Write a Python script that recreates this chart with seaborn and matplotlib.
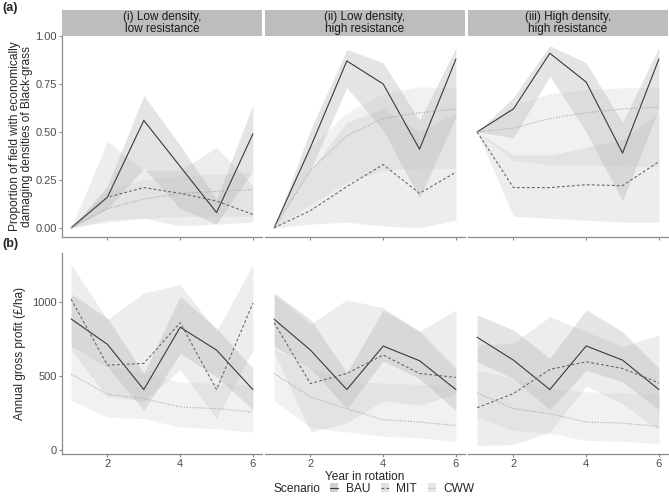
import numpy as np
import pandas as pd
import matplotlib
matplotlib.use("Agg")
import matplotlib.pyplot as plt
import seaborn as sns
from matplotlib.patches import Rectangle, Patch
from matplotlib.lines import Line2D

# ---------------------------- #
# DATA
# ---------------------------- #
years = [1, 2, 3, 4, 5, 6]
scenarios = ["BAU", "MIT", "CWW"]
panel_titles = ["(i) Low density,\nlow resistance",
                "(ii) Low density,\nhigh resistance",
                "(iii) High density,\nhigh resistance"]

# (a) proportion of field with damaging densities, one row per panel
bau_prop = [[0, 0.16, 0.56, 0.32, 0.08, 0.49],
            [0, 0.42, 0.87, 0.75, 0.41, 0.88],
            [0.5, 0.62, 0.91, 0.76, 0.39, 0.88]]
bau_prop_lo = [[0, 0.10, 0.31, 0.10, 0.02, 0.30],
               [0, 0.30, 0.73, 0.51, 0.155, 0.58],
               [0.5, 0.47, 0.79, 0.50, 0.14, 0.62]]
bau_prop_hi = [[0, 0.22, 0.69, 0.43, 0.15, 0.64],
               [0, 0.51, 0.93, 0.86, 0.56, 0.94],
               [0.5, 0.68, 0.95, 0.86, 0.55, 0.94]]
mit_prop = [[0, 0.16, 0.21, 0.18, 0.14, 0.07],
            [0, 0.09, 0.215, 0.33, 0.18, 0.29],
            [0.5, 0.21, 0.21, 0.225, 0.22, 0.345]]
mit_prop_lo = [[0, 0.04, 0.05, 0.01, 0.02, 0.03],
               [0, 0.02, 0.03, 0.01, 0.0, 0.04],
               [0.5, 0.06, 0.05, 0.04, 0.03, 0.03]]
mit_prop_hi = [[0, 0.45, 0.30, 0.30, 0.42, 0.22],
               [0, 0.30, 0.55, 0.62, 0.50, 0.60],
               [0.5, 0.38, 0.38, 0.42, 0.46, 0.60]]
cww_prop = [[0, 0.10, 0.15, 0.18, 0.19, 0.20],
            [0, 0.30, 0.48, 0.57, 0.60, 0.62],
            [0.5, 0.52, 0.57, 0.60, 0.62, 0.63]]
cww_prop_lo = [[0, 0.03, 0.05, 0.06, 0.06, 0.06],
               [0, 0.12, 0.24, 0.30, 0.31, 0.31],
               [0.5, 0.35, 0.33, 0.33, 0.32, 0.32]]
cww_prop_hi = [[0, 0.20, 0.25, 0.27, 0.28, 0.29],
               [0, 0.42, 0.60, 0.70, 0.735, 0.73],
               [0.5, 0.64, 0.70, 0.72, 0.73, 0.73]]

# (b) annual gross profit (GBP/ha)
bau_gp = [[884, 712, 406, 828, 673, 406],
          [882, 673, 406, 700, 601, 406],
          [760, 605, 406, 701, 605, 406]]
bau_gp_lo = [[696, 560, 265, 651, 492, 270],
             [700, 550, 277, 600, 480, 265],
             [594, 481, 270, 537, 458, 270]]
bau_gp_hi = [[1054, 889, 515, 1036, 821, 549],
             [1060, 880, 520, 945, 800, 550],
             [912, 810, 617, 946, 798, 549]]
mit_gp = [[1018, 571, 583, 859, 406, 991],
          [859, 447, 515, 640, 515, 488],
          [283, 379, 542, 594, 549, 451]]
mit_gp_lo = [[673, 356, 330, 540, 209, 673],
             [660, 118, 180, 330, 300, 380],
             [27, 34, 118, 428, 311, 129]]
mit_gp_hi = [[1252, 880, 1059, 1116, 800, 1252],
             [1050, 850, 1014, 960, 800, 945],
             [707, 720, 900, 798, 696, 776]]
cww_gp = [[510, 374, 345, 288, 277, 254],
          [515, 356, 277, 202, 186, 163],
          [383, 277, 243, 186, 179, 156]]
cww_gp_lo = [[333, 220, 209, 152, 141, 118],
             [330, 150, 120, 90, 80, 55],
             [220, 129, 111, 61, 57, 39]]
cww_gp_hi = [[685, 571, 515, 458, 447, 435],
             [680, 560, 460, 450, 440, 440],
             [537, 481, 413, 390, 383, 379]]

# ---------------------------- #
# BUILD LONG TABLE
# ---------------------------- #
rows = []
series = {
    ("BAU", "prop"): (bau_prop, bau_prop_lo, bau_prop_hi),
    ("MIT", "prop"): (mit_prop, mit_prop_lo, mit_prop_hi),
    ("CWW", "prop"): (cww_prop, cww_prop_lo, cww_prop_hi),
    ("BAU", "gp"): (bau_gp, bau_gp_lo, bau_gp_hi),
    ("MIT", "gp"): (mit_gp, mit_gp_lo, mit_gp_hi),
    ("CWW", "gp"): (cww_gp, cww_gp_lo, cww_gp_hi),
}
for (sc, metric), (mid, lo, hi) in series.items():
    for p in range(3):
        for i, yr in enumerate(years):
            rows.append(dict(scenario=sc, metric=metric, panel=p, year=yr,
                             value=mid[p][i], lo=lo[p][i], hi=hi[p][i]))
df = pd.DataFrame(rows)

# ---------------------------- #
# STYLE
# ---------------------------- #
sns.set_theme(style="white")
plt.rcParams['font.family'] = ['Liberation Sans', 'DejaVu Sans']

line_col = {"BAU": "#3a3a3a", "MIT": "#666666", "CWW": "#a8a8a8"}
fill_col = {"BAU": "#7a7a7a", "MIT": "#a8a8a8", "CWW": "#bdbdbd"}
fill_alpha = 0.2
dash_map = {"BAU": "", "MIT": (2.5, 2), "CWW": (1, 1.5)}
axis_grey = "#8a8a8a"
tick_txt = "#4d4d4d"
FS = 8.6

fig = plt.figure(figsize=(6.69, 4.96), dpi=100)
W, H = 669, 496
lefts = [62, 265, 468]
pw = 200
rows_px = [(36, 237), (253, 454)]

axes = [[None] * 3 for _ in range(2)]
for r, (top, bot) in enumerate(rows_px):
    for c, lx in enumerate(lefts):
        ax = fig.add_axes([lx / W, 1 - bot / H, pw / W, (bot - top) / H])
        axes[r][c] = ax

for r, metric in enumerate(["prop", "gp"]):
    for c in range(3):
        ax = axes[r][c]
        sub = df[(df.metric == metric) & (df.panel == c)]
        for sc in scenarios:
            s = sub[sub.scenario == sc]
            ax.fill_between(s.year, s.lo, s.hi, color=fill_col[sc],
                            alpha=fill_alpha, linewidth=0)
        sns.lineplot(data=sub, x="year", y="value", hue="scenario",
                     style="scenario", palette=line_col, dashes=dash_map,
                     hue_order=scenarios, style_order=scenarios,
                     linewidth=0.8, legend=False, ax=ax, errorbar=None)
        ax.set_xlim(0.75, 6.25)
        if metric == "prop":
            ax.set_ylim(-0.0475, 0.9975)
            ax.set_yticks([0, 0.25, 0.5, 0.75, 1.0])
            ax.set_yticklabels(["0.00", "0.25", "0.50", "0.75", "1.00"])
        else:
            ax.set_ylim(-30, 1330)
            ax.set_yticks([0, 500, 1000])
        ax.set_xticks([2, 4, 6])
        ax.set_xlabel("")
        ax.set_ylabel("")
        for sp in ["top", "right"]:
            ax.spines[sp].set_visible(False)
        ax.spines["bottom"].set_color(axis_grey)
        ax.spines["bottom"].set_linewidth(0.9)
        if c == 0:
            ax.spines["left"].set_color(axis_grey)
            ax.spines["left"].set_linewidth(0.9)
        else:
            ax.spines["left"].set_visible(False)
            ax.tick_params(axis="y", left=False, labelleft=False)
        ax.tick_params(axis="both", colors=axis_grey, labelcolor=tick_txt,
                       labelsize=8, length=2.5, width=0.8, pad=1.2,
                       bottom=True, left=(c == 0))
        if r == 0:
            ax.tick_params(axis="x", labelbottom=False)
            # facet strip
            ax.add_patch(Rectangle((0, 1.0), 1, 26 / 201, transform=ax.transAxes,
                                   facecolor="#bdbdbd", edgecolor="none",
                                   clip_on=False))
            ax.text(0.5, 1.0 + 13 / 201, panel_titles[c], transform=ax.transAxes,
                    ha="center", va="center", fontsize=8.5, color="#1a1a1a",
                    linespacing=1.0)

axes[0][0].set_ylabel("Proportion of field with economically\n"
                      "damaging densities of Black-grass",
                      fontsize=FS, labelpad=1.5, linespacing=1.0)
axes[1][0].set_ylabel("Annual gross profit (£/ha)", fontsize=FS, labelpad=4.5)
axes[1][1].set_xlabel("Year in rotation", fontsize=FS, labelpad=1)

fig.text(2 / W, 1 - 8 / H, "(a)", fontsize=9, fontweight="bold", va="center")
fig.text(2 / W, 1 - 244 / H, "(b)", fontsize=9, fontweight="bold", va="center")

# legend at bottom
handles = []
for sc in scenarios:
    patch = Patch(facecolor=fill_col[sc], alpha=fill_alpha + 0.15, edgecolor="none")
    ln = Line2D([], [], color=line_col[sc], lw=0.8,
                linestyle=(0, dash_map[sc]) if dash_map[sc] else "-")
    handles.append((patch, ln))
fig.text(273 / W, 1 - 489 / H, "Scenario", fontsize=FS, va="center", ha="left")
fig.legend(handles, scenarios, loc="center left",
           bbox_to_anchor=(330 / W, 1 - 489 / H), ncol=3, frameon=False,
           fontsize=FS, handlelength=0.7, handleheight=0.8,
           handletextpad=0.6, columnspacing=0.9, borderaxespad=0,
           borderpad=0)

fig.savefig("out.png", dpi=100)
